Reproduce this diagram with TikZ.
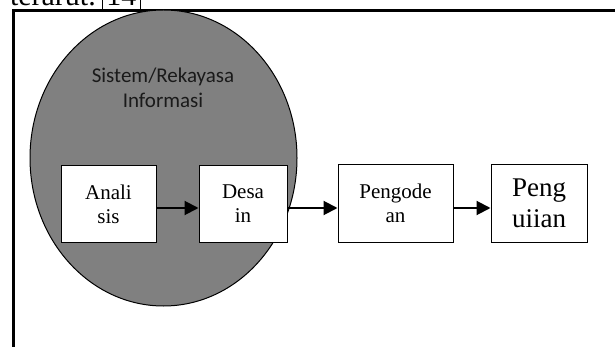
\documentclass[tikz,border=0pt]{standalone}
\usepackage{fontspec}
\setmainfont{Liberation Serif}
\newfontfamily\labelsans{Carlito}
\usetikzlibrary{arrows.meta}

\definecolor{phasegray}{HTML}{808080}
\definecolor{labelink}{HTML}{1A1A1A}

\begin{document}
\begin{tikzpicture}[x=1pt,y=-1pt,
  stage/.style={draw=black, line width=1pt, fill=white, minimum height=77pt,
    align=center, inner sep=0pt, font=\fontsize{21}{24}\selectfont},
  bigstage/.style={stage, font=\fontsize{27}{31}\selectfont},
  flow/.style={line width=2pt, -{Triangle[length=14pt,width=14pt]}},
  frame/.style={line width=3pt, line join=miter}]
\useasboundingbox (0,0) rectangle (615,347);
\clip (0,0) rectangle (615,347);

% preceding line of text, cut by the page edge
\node[anchor=base east, inner sep=0pt, font=\fontsize{30}{30}\selectfont] (prev) at (96,6) {terarut.};
\node[anchor=base west, draw=black, line width=0.6pt, inner xsep=4pt, inner ysep=3pt,
  font=\fontsize{30}{30}\selectfont] (cite) at (102,6) {14};

% outer frame (open towards right and bottom)
\coordinate (fbl) at (13.5,347);
\coordinate (ftl) at (13.5,11);
\coordinate (ftr) at (615,11);
\draw[frame] (fbl) -- (ftl) -- (ftr);

% system / information engineering phase
\draw[fill=phasegray, line width=1pt] (163.5,158) ellipse [x radius=133.5, y radius=148];
\node[font=\labelsans\fontsize{21}{25}\selectfont, text=labelink, align=center] (sys) at (163,88)
  {Sistem/Rekayasa\\Informasi};

% waterfall stages
\node[stage, minimum width=95pt] (analisis) at (108.5,204) {Anali\\sis};
\node[stage, minimum width=88pt] (desain) at (243,204) {Desa\\in};
\node[stage, minimum width=115pt] (pengodean) at (395.5,203.5) {Pengode\\an};
\node[bigstage, minimum width=96pt] (pengujian) at (539,203.5) {Peng\\uiian};

\draw[flow] ([yshift=-4pt]analisis.east) -- ([yshift=-4pt]desain.west);
\draw[flow] ([yshift=-4pt]desain.east) -- ([yshift=-4.5pt]pengodean.west);
\draw[flow] ([yshift=-4.5pt]pengodean.east) -- ([yshift=-4.5pt]pengujian.west);
\end{tikzpicture}
\end{document}
